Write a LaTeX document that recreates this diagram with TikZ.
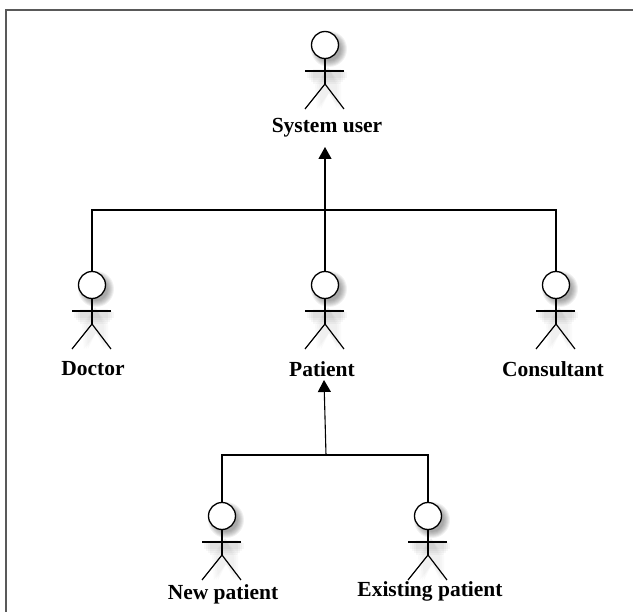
\documentclass[tikz,border=0pt]{standalone}
\usepackage{fontspec}
\setmainfont{Liberation Serif}
\usetikzlibrary{arrows.meta}
\tikzset{
  x=1pt,y=-1pt,
  head/.style={circle,draw=black,fill=white,line width=1.3pt,minimum size=27pt,inner sep=0pt},
  limb/.style={draw=black,line width=1.2pt},
  link/.style={draw=black,line width=1.1pt},
  arrowlink/.style={link,-{Triangle[length=12pt,width=13pt]}},
  actorlabel/.style={font=\bfseries\fontsize{21.5}{24}\selectfont,text=black,inner sep=0pt},
  frameline/.style={draw=black!65,line width=1.3pt}
}
\newcommand{\softshadow}[2]{%
  \foreach \r in {18,17,16,15,14,13,12}{\fill[black,opacity=0.055] (#1+4,#2+4) circle (\r);}%
  \foreach \d in {0,2,4,6}{\fill[black,opacity=0.03] (#1-18+\d,#2+27-\d/2) rectangle (#1+22-\d,#2+33+\d);}%
  \foreach \d in {0,2,4}{\fill[black,opacity=0.02] (#1-10+\d,#2+40) -- (#1+3,#2+22) -- (#1+16-\d,#2+40) -- (#1+16-\d,#2+64) -- (#1+4,#2+48) -- (#1-8+\d,#2+64) -- cycle;}%
}
\newcommand{\actor}[6]{% name, x, y, label, label x, label y
  \softshadow{#2}{#3}
  \node[head] (#1) at (#2,#3) {};
  \coordinate (#1hip) at (#2,#3+39);
  \coordinate (#1armL) at (#2-20,#3+26);
  \coordinate (#1armR) at (#2+19,#3+26);
  \coordinate (#1footL) at (#2-20,#3+64);
  \coordinate (#1footR) at (#2+19,#3+64);
  \draw[limb] (#1.south) -- (#1hip);
  \draw[limb] (#1armL) -- (#1armR);
  \draw[limb] (#1footL) -- (#1hip) -- (#1footR);
  \node[actorlabel] (#1label) at (#5,#6) {#4};
}
\begin{document}
\begin{tikzpicture}
\useasboundingbox (0,0) rectangle (633,612);
\fill[white] (0,0) rectangle (633,612);
\coordinate (frameA) at (6,612);
\coordinate (frameB) at (6,10);
\coordinate (frameC) at (633,10);
\draw[frameline] (frameA) -- (frameB) -- (frameC);
\actor{sysuser}{325}{45}{System user}{327}{128}
\actor{doctor}{92}{285}{Doctor}{93}{369}
\actor{patient}{325}{285}{Patient}{322}{369}
\actor{consultant}{556}{285}{Consultant}{553}{369}
\actor{newpatient}{222}{516}{New patient}{223}{594}
\actor{existing}{428}{516}{Existing patient}{430}{591}
\coordinate (topjoin) at (325,210);
\coordinate (tipone) at (325,147);
\coordinate (lowjoin) at (326,455);
\coordinate (tiptwo) at (324,380);
\draw[link] (doctor.north) |- (topjoin);
\draw[link] (consultant.north) |- (topjoin);
\draw[arrowlink] (patient.north) -- (tipone);
\draw[link] (newpatient.north) |- (lowjoin);
\draw[link] (existing.north) |- (lowjoin);
\draw[arrowlink] (lowjoin) -- (tiptwo);
\end{tikzpicture}
\end{document}
